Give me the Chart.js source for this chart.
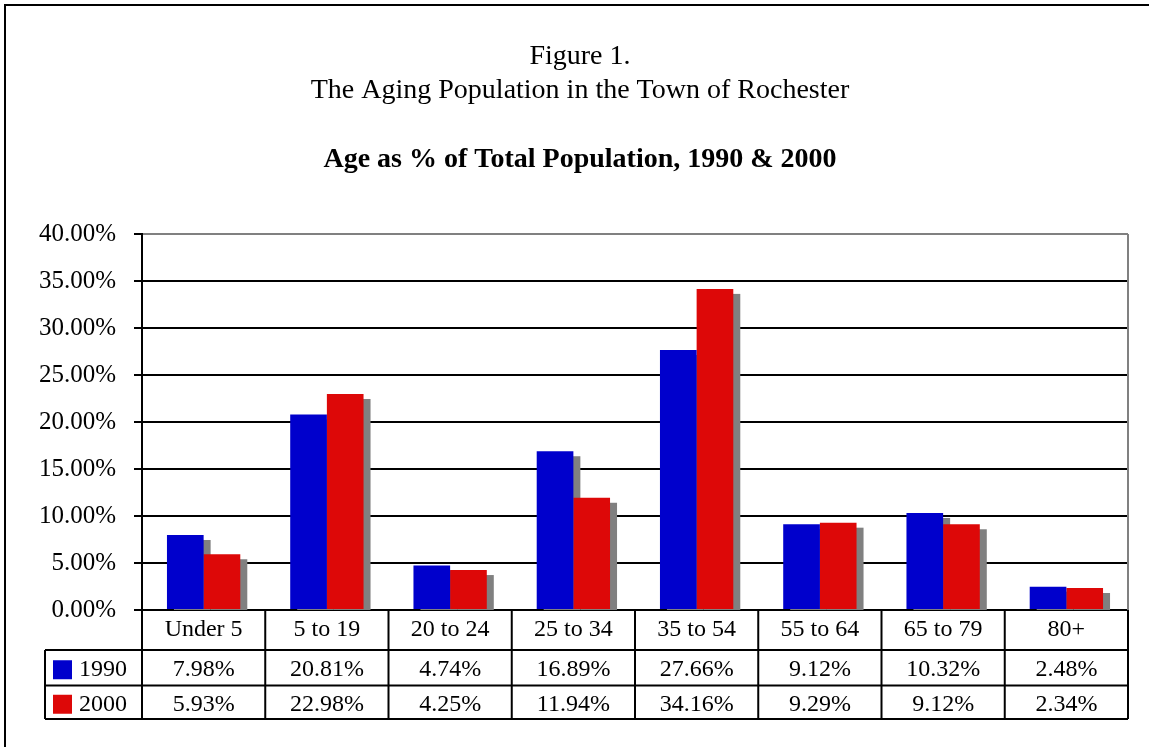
<!DOCTYPE html>
<html>
<head>
<meta charset="utf-8">
<title>Age as % of Total Population</title>
<script src="https://cdn.jsdelivr.net/npm/chart.js@4"></script>
<style>
     html, body { margin: 0; padding: 0; background: #fff; overflow: hidden; }
     .frame { position: absolute; left: 4px; top: 4px; width: 1148px; height: 750px; border: 2px solid #000; }
</style>
</head>
<body>
<div class="frame"><canvas id="ageChart" width="1148" height="750"></canvas></div>
<script>
const ageGroups = ['Under 5', '5 to 19', '20 to 24', '25 to 34', '35 to 54', '55 to 64', '65 to 79', '80+']

const pct1990 = [7.98, 20.81, 4.74, 16.89, 27.66, 9.12, 10.32, 2.48]
const pct2000 = [5.93, 22.98, 4.25, 11.94, 34.16, 9.29, 9.12, 2.34]

const seriesNames = ['1990', '2000']

const titleLines = ['Figure 1.', 'The Aging Population in the Town of Rochester']
const chartTitle = 'Age as % of Total Population, 1990 & 2000'

const blue = '#0000CC'
const red = '#DD0808'
const shadowGrey = '#808080'
const serif = "'Liberation Serif', 'Times New Roman', serif"

const fmt = v => v.toFixed(2) + '%'

// grey drop shadow behind the bars, all shadows go down first so the bars sit on top
const barShadow = {
     id: 'barShadow',
     beforeDatasetsDraw(chart) {
          const { ctx, chartArea } = chart
          ctx.save()
          ctx.beginPath()
          ctx.rect(chartArea.left, chartArea.top, chartArea.right - chartArea.left, chartArea.bottom - chartArea.top)
          ctx.clip()
          ctx.fillStyle = shadowGrey
          chart.data.datasets.forEach((ds, i) => {
               chart.getDatasetMeta(i).data.forEach(bar => {
                    const p = bar.getProps(['x', 'y', 'base', 'width'], true)
                    ctx.fillRect(p.x - p.width / 2 + 7, p.y + 5, p.width, p.base - p.y)
               })
          })
          ctx.restore()
     }
}

// the data table under the plot, columns come from the x scale
const dataTable = {
     id: 'dataTable',
     afterDraw(chart) {
          const { ctx, chartArea } = chart
          const x = chart.scales.x
          const colW = x.getPixelForValue(1) - x.getPixelForValue(0)
          const top = chartArea.bottom
          const rowY = [top, top + 40, top + 75.5, top + 109]
          const legendLeft = 39

          ctx.save()

          // grey right edge of the plot area
          ctx.strokeStyle = shadowGrey
          ctx.lineWidth = 2
          ctx.beginPath()
          ctx.moveTo(chartArea.right, chartArea.top)
          ctx.lineTo(chartArea.right, chartArea.bottom)
          ctx.stroke()

          ctx.strokeStyle = '#000'
          ctx.lineWidth = 2
          ctx.beginPath()
          for (let i = 0; i <= ageGroups.length; i++) {
               const cx = x.getPixelForValue(i) - colW / 2
               ctx.moveTo(cx, rowY[0])
               ctx.lineTo(cx, rowY[3])
          }
          for (let r = 1; r < rowY.length; r++) {
               ctx.moveTo(legendLeft, rowY[r])
               ctx.lineTo(chartArea.right, rowY[r])
          }
          ctx.moveTo(legendLeft, rowY[1])
          ctx.lineTo(legendLeft, rowY[3])
          ctx.stroke()

          ctx.fillStyle = '#000'
          ctx.font = '24px ' + serif
          ctx.textAlign = 'center'
          ctx.textBaseline = 'middle'
          const mid = r => (rowY[r] + rowY[r + 1]) / 2
          ageGroups.forEach((g, i) => {
               const cx = x.getPixelForValue(i)
               ctx.fillText(g, cx, mid(0))
               ctx.fillText(fmt(pct1990[i]), cx, mid(1) + 2)
               ctx.fillText(fmt(pct2000[i]), cx, mid(2) + 2)
          })

          // legend keys inside the table
          const keyColors = [blue, red]
          ctx.textAlign = 'left'
          seriesNames.forEach((name, s) => {
               const cy = mid(s + 1) + 2
               ctx.fillStyle = keyColors[s]
               ctx.fillRect(legendLeft + 8, cy - 9.5, 19, 19)
               ctx.fillStyle = '#000'
               ctx.fillText(name, legendLeft + 34, cy)
          })

          ctx.restore()
     }
}

const ctx = document.getElementById('ageChart').getContext('2d')

const ageChart = new Chart(ctx, {
     type: 'bar',
     data: {
          labels: ageGroups,
          datasets: [{
               label: seriesNames[0],
               data: pct1990,
               backgroundColor: blue,
               borderWidth: 0
          }, {
               label: seriesNames[1],
               data: pct2000,
               backgroundColor: red,
               borderWidth: 0
          }]
     },
     options: {
          responsive: false,
          animation: false,
          devicePixelRatio: 1,
          categoryPercentage: 0.595,
          barPercentage: 1,
          layout: {
               // equal side padding keeps the titles centred on the frame
               padding: { top: 0, left: 26, right: 26, bottom: 146 }
          },
          scales: {
               x: {
                    display: false
               },
               y: {
                    min: 0,
                    max: 40,
                    afterFit: scale => { scale.width = 110 },
                    ticks: {
                         stepSize: 5,
                         padding: 18,
                         color: '#000',
                         font: { family: serif, size: 25 },
                         callback: v => fmt(v)
                    },
                    grid: {
                         color: c => c.tick && c.tick.value === 40 ? shadowGrey : '#000',
                         lineWidth: 2,
                         tickColor: '#000',
                         tickWidth: 2,
                         tickLength: 8
                    },
                    border: { display: true, color: '#000', width: 2 }
               }
          },
          plugins: {
               legend: { display: false },
               tooltip: { enabled: false },
               title: {
                    display: true,
                    text: titleLines,
                    color: '#000',
                    font: { family: serif, size: 28, weight: 'normal', lineHeight: 34 / 28 },
                    padding: { top: 34, bottom: 0 }
               },
               subtitle: {
                    display: true,
                    text: chartTitle,
                    color: '#000',
                    font: { family: serif, size: 28, weight: 'bold', lineHeight: 33 / 28 },
                    padding: { top: 35, bottom: 58 }
               }
          }
     },
     plugins: [barShadow, dataTable]
})
</script>
</body>
</html>
